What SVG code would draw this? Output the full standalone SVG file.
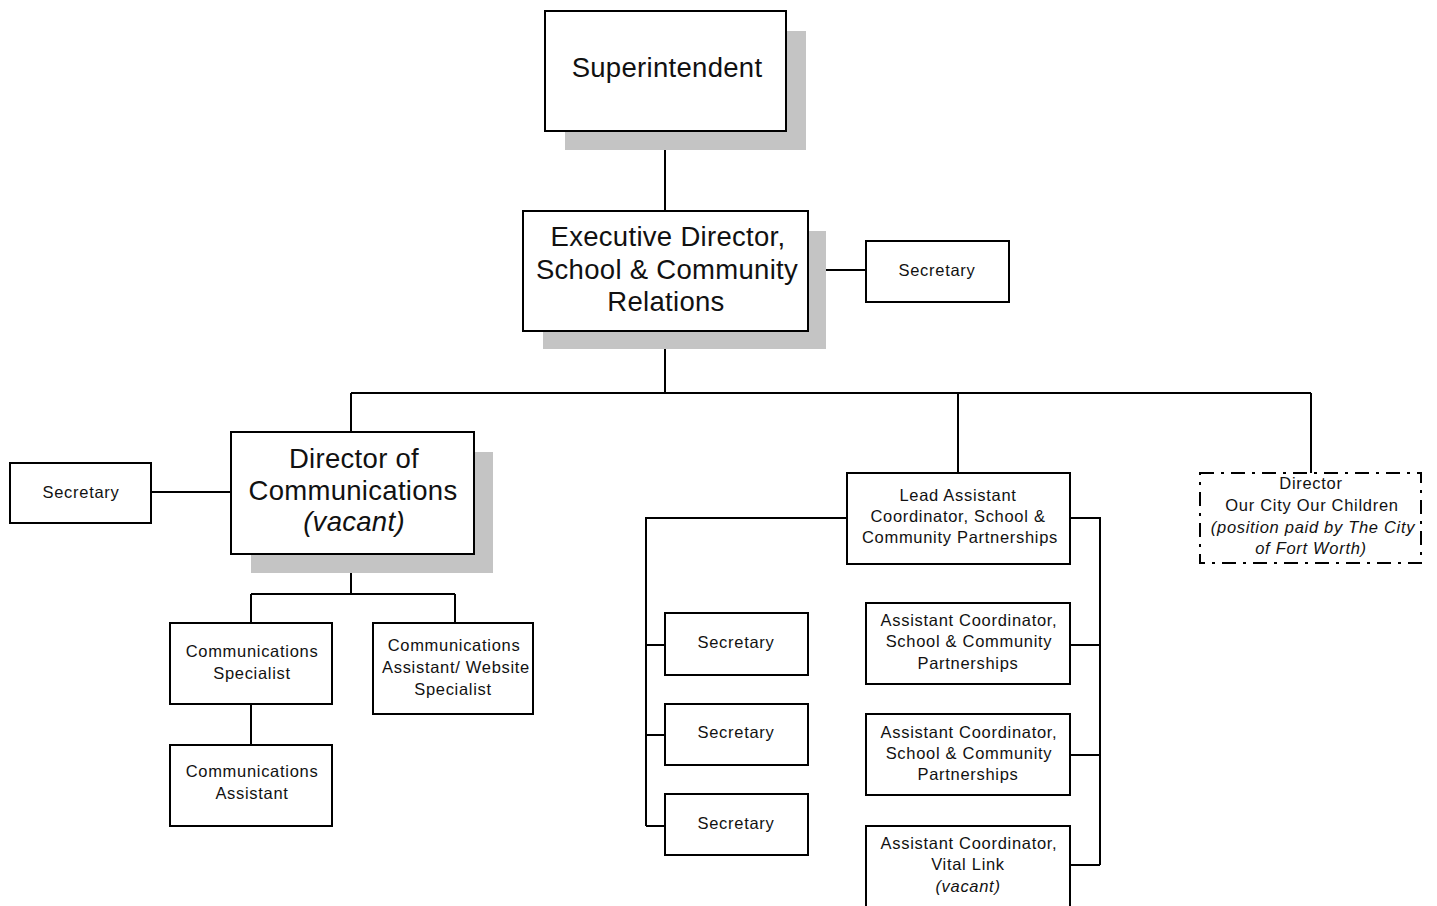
<svg xmlns="http://www.w3.org/2000/svg" width="1437" height="906" viewBox="0 0 1437 906">
  <style>
    .box { fill: #ffffff; stroke: #000000; stroke-width: 2; }
    .shadow { fill: #c4c4c4; }
    .dash { fill: #ffffff; stroke: #000000; stroke-width: 2; stroke-dasharray: 14 7 3 7; }
    .link { fill: none; stroke: #000000; stroke-width: 2; }
    .big { font-family: "Liberation Sans", Arial, sans-serif; font-size: 27.5px; fill: #111111; text-anchor: middle; letter-spacing: 0.3px; }
    .small { font-family: "Liberation Sans", Arial, sans-serif; font-size: 16.5px; fill: #111111; text-anchor: middle; letter-spacing: 0.7px; }
    .it { font-style: italic; }
  </style>
  <rect x="0" y="0" width="1437" height="906" fill="#ffffff"/>

  <!-- connectors -->
  <g id="connectors">
    <path class="link" d="M665 131 V211"/>
    <path class="link" d="M808 270 H866"/>
    <path class="link" d="M665 331 V393 M351 393 H1311 M351 393 V432 M958 393 V473 M1311 393 V473"/>
    <path class="link" d="M151 492 H231"/>
    <path class="link" d="M351 554 V594 M251 594 H455 M251 594 V623 M455 594 V623"/>
    <path class="link" d="M251 704 V745"/>
    <path class="link" d="M847 518 H646 V826 M646 645 H665 M646 735 H665 M646 826 H665"/>
    <path class="link" d="M1070 518 H1100 V865 M1070 645 H1100 M1070 755 H1100 M1070 865 H1100"/>
  </g>

  <!-- Superintendent -->
  <g id="superintendent">
    <rect class="shadow" x="565" y="31" width="241" height="119"/>
    <rect class="box" x="545" y="11" width="241" height="120"/>
    <text class="big" x="667" y="77">Superintendent</text>
  </g>

  <!-- Executive Director -->
  <g id="exec-director">
    <rect class="shadow" x="543" y="231" width="283" height="118"/>
    <rect class="box" x="523" y="211" width="285" height="120"/>
    <text class="big" x="668" y="246">Executive Director,</text>
    <text class="big" x="667" y="279">School &amp; Community</text>
    <text class="big" x="666" y="311">Relations</text>
  </g>

  <g id="exec-secretary">
    <rect class="box" x="866" y="241" width="143" height="61"/>
    <text class="small" x="937" y="276">Secretary</text>
  </g>

  <!-- Director of Communications -->
  <g id="dir-communications">
    <rect class="shadow" x="251" y="452" width="242" height="121"/>
    <rect class="box" x="231" y="432" width="243" height="122"/>
    <text class="big" x="354" y="468">Director of</text>
    <text class="big" x="353" y="500">Communications</text>
    <text class="big it" x="354" y="531">(vacant)</text>
  </g>

  <g id="comm-secretary">
    <rect class="box" x="10" y="463" width="141" height="60"/>
    <text class="small" x="81" y="498">Secretary</text>
  </g>

  <g id="comm-specialist">
    <rect class="box" x="170" y="623" width="162" height="81"/>
    <text class="small" x="252" y="657">Communications</text>
    <text class="small" x="252" y="679">Specialist</text>
  </g>

  <g id="comm-web">
    <rect class="box" x="373" y="623" width="160" height="91"/>
    <text class="small" x="454" y="651">Communications</text>
    <text class="small" x="456" y="673">Assistant/ Website</text>
    <text class="small" x="453" y="695">Specialist</text>
  </g>

  <g id="comm-assistant">
    <rect class="box" x="170" y="745" width="162" height="81"/>
    <text class="small" x="252" y="777">Communications</text>
    <text class="small" x="252" y="799">Assistant</text>
  </g>

  <!-- Partnerships -->
  <g id="lead-assistant">
    <rect class="box" x="847" y="473" width="223" height="91"/>
    <text class="small" x="958" y="501">Lead Assistant</text>
    <text class="small" x="958" y="522">Coordinator, School &amp;</text>
    <text class="small" x="960" y="543">Community Partnerships</text>
  </g>

  <g id="secretary-1">
    <rect class="box" x="665" y="613" width="143" height="62"/>
    <text class="small" x="736" y="648">Secretary</text>
  </g>
  <g id="secretary-2">
    <rect class="box" x="665" y="704" width="143" height="61"/>
    <text class="small" x="736" y="738">Secretary</text>
  </g>
  <g id="secretary-3">
    <rect class="box" x="665" y="794" width="143" height="61"/>
    <text class="small" x="736" y="829">Secretary</text>
  </g>

  <g id="asst-coord-1">
    <rect class="box" x="866" y="603" width="204" height="81"/>
    <text class="small" x="969" y="626">Assistant Coordinator,</text>
    <text class="small" x="969" y="647">School &amp; Community</text>
    <text class="small" x="968" y="669">Partnerships</text>
  </g>
  <g id="asst-coord-2">
    <rect class="box" x="866" y="714" width="204" height="81"/>
    <text class="small" x="969" y="738">Assistant Coordinator,</text>
    <text class="small" x="969" y="759">School &amp; Community</text>
    <text class="small" x="968" y="780">Partnerships</text>
  </g>
  <g id="asst-coord-vital">
    <rect class="box" x="866" y="826" width="204" height="84"/>
    <text class="small" x="969" y="849">Assistant Coordinator,</text>
    <text class="small" x="968" y="870">Vital Link</text>
    <text class="small it" x="968" y="892">(vacant)</text>
  </g>

  <!-- Our City Our Children -->
  <g id="occ-director">
    <rect class="dash" x="1200" y="473" width="221" height="90"/>
    <text class="small" x="1311" y="489">Director</text>
    <text class="small" x="1312" y="511">Our City Our Children</text>
    <text class="small it" x="1313" y="533">(position paid by The City</text>
    <text class="small it" x="1311" y="554">of Fort Worth)</text>
  </g>
</svg>
